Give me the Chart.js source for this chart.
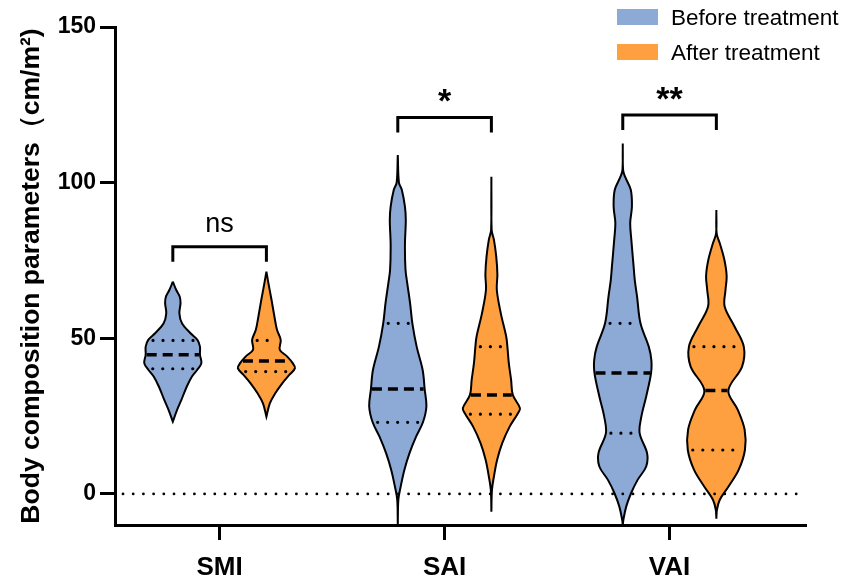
<!DOCTYPE html>
<html>
<head>
<meta charset="utf-8">
<script src="https://cdn.jsdelivr.net/npm/chart.js@4.4.1/dist/chart.umd.min.js"></script>
<style>
  html, body { margin: 0; padding: 0; background: #fff; }
  canvas { display: block; }
</style>
</head>
<body>
<canvas id="chart" width="843" height="580"></canvas>
<script>
// --- Values ---
const categories = ['SMI', 'SAI', 'VAI'];
const seriesNames = ['Before treatment', 'After treatment'];
const seriesColors = ['#8daad6', '#ffa040'];
const yTicks = [0, 50, 100, 150];

const beforeQ3 = [49.3, 54.8, 54.8];
const beforeMedian = [44.7, 33.7, 38.8];
const beforeQ1 = [40.2, 23.0, 19.5];
const afterQ3 = [49.3, 47.3, 47.3];
const afterMedian = [42.7, 31.8, 33.2];
const afterQ1 = [39.3, 25.6, 14.1];

const sigLabels = ['ns', '*', '**'];
const sigLevels = [79.4, 120.9, 121.7];

// violin outlines: levels from top to bottom, width in % of the widest part
const smiBeforeLevels = [68.2, 65.5, 63.4, 61.3, 58.0, 54.8, 51.6, 49.5, 47.3, 44.7, 42.0, 39.8, 37.7, 34.5, 30.2, 27.0, 23.2];
const smiBeforeWidth  = [0, 12, 24, 27, 23, 32, 62, 86, 95, 95, 100, 85, 67, 49, 30, 15, 0];
const smiAfterLevels  = [71.4, 67.7, 62.3, 57.0, 52.7, 49.5, 46.3, 44.1, 42.0, 40.4, 38.2, 35.6, 32.3, 29.1, 24.8];
const smiAfterWidth   = [0, 7, 18, 28, 37, 50, 47, 73, 92, 100, 80, 56, 31, 12, 0];

const saiBeforeLevels = [108.9, 100.0, 97.7, 92.3, 88.0, 80.0, 72.0, 67.7, 61.3, 54.8, 47.3, 39.8, 33.7, 28.0, 23.0, 18.4, 13.1, 7.7, 2.3, -1.9, -10.0];
const saiBeforeWidth  = [0, 4, 14, 25, 28, 25, 27, 33, 43, 51, 66, 87, 94, 100, 88, 64, 41, 23, 10, 2, 0];
const saiAfterLevels  = [101.9, 84.8, 81.6, 76.2, 70.5, 65.5, 58.0, 50.5, 47.3, 42.0, 36.6, 31.8, 27.5, 25.6, 21.6, 16.3, 10.9, 5.6, 1.3, -5.7];
const saiAfterWidth   = [0, 1, 9, 17, 21, 19, 33, 52, 56, 61, 69, 75, 100, 91, 64, 38, 20, 9, 2, 0];

const vaiBeforeLevels = [112.6, 104.1, 101.9, 97.7, 92.3, 87.0, 81.6, 73.0, 68.7, 63.4, 54.8, 47.3, 43.0, 38.8, 31.3, 24.8, 19.5, 13.1, 8.8, 4.5, 0.2, -4.1, -8.4, -10.0];
const vaiBeforeWidth  = [0, 1, 8, 28, 32, 26, 30, 38, 42, 50, 62, 91, 100, 99, 82, 65, 59, 85, 82, 52, 29, 12, 2, 0];
const vaiAfterLevels  = [91.2, 83.7, 80.5, 75.2, 70.0, 65.5, 60.2, 53.7, 47.3, 40.9, 33.2, 27.0, 20.6, 14.1, 7.7, 2.3, -1.9, -5.1, -8.0];
const vaiAfterWidth   = [0, 1, 12, 28, 36, 32, 29, 64, 96, 90, 42, 75, 99, 100, 78, 42, 12, 2, 0];

// --- Layout constants ---
const groupOffset = 0.208;   // each violin sits this far from its category centre (x units)
const maxHalfWidth = 0.127;  // half width of the widest part of a violin (x units)
const zeroLine = 0;

const violins = [
    { cat: 0, s: 0, levels: smiBeforeLevels, width: smiBeforeWidth, q1: beforeQ1[0], med: beforeMedian[0], q3: beforeQ3[0] },
    { cat: 0, s: 1, levels: smiAfterLevels,  width: smiAfterWidth,  q1: afterQ1[0],  med: afterMedian[0],  q3: afterQ3[0] },
    { cat: 1, s: 0, levels: saiBeforeLevels, width: saiBeforeWidth, q1: beforeQ1[1], med: beforeMedian[1], q3: beforeQ3[1] },
    { cat: 1, s: 1, levels: saiAfterLevels,  width: saiAfterWidth,  q1: afterQ1[1],  med: afterMedian[1],  q3: afterQ3[1] },
    { cat: 2, s: 0, levels: vaiBeforeLevels, width: vaiBeforeWidth, q1: beforeQ1[2], med: beforeMedian[2], q3: beforeQ3[2] },
    { cat: 2, s: 1, levels: vaiAfterLevels,  width: vaiAfterWidth,  q1: afterQ1[2],  med: afterMedian[2],  q3: afterQ3[2] }
];

function centerOf(v) {
    return v.cat + 1 + (v.s === 0 ? -groupOffset : groupOffset);
}

// closed outline: right side top->bottom, then left side bottom->top
function outline(v) {
    const c = centerOf(v);
    const right = v.levels.map((y, i) => ({ x: c + v.width[i] / 100 * maxHalfWidth, y: y }));
    const left = v.levels.map((y, i) => ({ x: c - v.width[i] / 100 * maxHalfWidth, y: y })).reverse();
    return right.concat(left);
}

function widthAt(v, value) {
    const L = v.levels, W = v.width;
    for (let i = 0; i < L.length - 1; i++) {
        if (value <= L[i] && value >= L[i + 1]) {
            const t = (L[i] - value) / (L[i] - L[i + 1]);
            return (W[i] + t * (W[i + 1] - W[i])) / 100 * maxHalfWidth;
        }
    }
    return 0;
}

const datasets = violins.map(v => ({
    label: seriesNames[v.s],
    data: outline(v),
    showLine: true,
    borderColor: '#000',
    borderWidth: 2,
    pointRadius: 0,
    tension: 0.35,
    fill: false,
    violinColor: seriesColors[v.s]
}));

// fills each violin before Chart.js strokes its outline
const violinFill = {
    id: 'violinFill',
    beforeDatasetDraw(chart, args) {
        const ds = chart.data.datasets[args.index];
        const line = args.meta.dataset;
        if (!line || !ds.violinColor) return;
        const area = chart.chartArea;
        const ctx = chart.ctx;
        line.updateControlPoints(area, 'x');
        ctx.save();
        ctx.beginPath();
        ctx.rect(area.left, area.top, area.right - area.left, area.bottom - area.top);
        ctx.clip();
        ctx.beginPath();
        line.path(ctx);
        ctx.closePath();
        ctx.fillStyle = ds.violinColor;
        ctx.fill();
        ctx.restore();
    }
};

function hLine(ctx, x1, x2, y) {
    ctx.beginPath();
    ctx.moveTo(x1, y);
    ctx.lineTo(x2, y);
    ctx.stroke();
}

const decorations = {
    id: 'decorations',
    afterDatasetsDraw(chart) {
        const ctx = chart.ctx;
        const xs = chart.scales.x, ys = chart.scales.y;
        const area = chart.chartArea;
        ctx.save();
        ctx.strokeStyle = '#000';

        // quartiles (dotted) and median (dashed)
        violins.forEach(v => {
            const c = centerOf(v);
            const cx = xs.getPixelForValue(c);
            [v.q1, v.q3].forEach(q => {
                const hw = xs.getPixelForValue(c + widthAt(v, q)) - cx;
                ctx.setLineDash([0, 10]);
                ctx.lineCap = 'round';
                ctx.lineWidth = 3.2;
                hLine(ctx, cx - hw + 5, cx + hw - 4, ys.getPixelForValue(q));
            });
            const hm = xs.getPixelForValue(c + widthAt(v, v.med)) - cx;
            ctx.setLineDash([10, 6]);
            ctx.lineCap = 'butt';
            ctx.lineWidth = 3.5;
            hLine(ctx, cx - hm + 1, cx + hm - 1, ys.getPixelForValue(v.med));
        });

        // dotted reference line at zero
        ctx.setLineDash([0, 10.2]);
        ctx.lineCap = 'round';
        ctx.lineWidth = 2.8;
        hLine(ctx, area.left + 8, area.right, ys.getPixelForValue(zeroLine));

        // significance brackets
        ctx.setLineDash([]);
        ctx.lineCap = 'butt';
        ctx.lineJoin = 'miter';
        ctx.lineWidth = 3;
        ctx.fillStyle = '#000';
        categories.forEach((name, i) => {
            const xl = xs.getPixelForValue(i + 1 - groupOffset);
            const xr = xs.getPixelForValue(i + 1 + groupOffset);
            const yb = ys.getPixelForValue(sigLevels[i]);
            ctx.beginPath();
            ctx.moveTo(xl, yb + 15);
            ctx.lineTo(xl, yb);
            ctx.lineTo(xr, yb);
            ctx.lineTo(xr, yb + 15);
            ctx.stroke();

            const txt = sigLabels[i];
            ctx.font = txt === 'ns' ? '27px "Liberation Sans", Arial, sans-serif'
                                    : 'bold 34px "Liberation Sans", Arial, sans-serif';
            ctx.textAlign = 'center';
            ctx.textBaseline = 'alphabetic';
            const m = ctx.measureText(txt);
            const cy = yb - 22;
            ctx.fillText(txt, (xl + xr) / 2, cy + (m.actualBoundingBoxAscent - m.actualBoundingBoxDescent) / 2);
        });
        ctx.restore();
    },
    afterDraw(chart) {
        // legend, top right
        const ctx = chart.ctx;
        ctx.save();
        ctx.font = '22.5px "Liberation Sans", Arial, sans-serif';
        ctx.textBaseline = 'middle';
        ctx.textAlign = 'left';
        seriesNames.forEach((name, i) => {
            const top = 9 + i * 35;
            ctx.fillStyle = seriesColors[i];
            ctx.fillRect(617, top, 41, 16);
            ctx.fillStyle = '#000';
            ctx.fillText(name, 671, top + 10);
        });
        ctx.restore();
    }
};

const tickFont = { family: '"Liberation Sans", Arial, sans-serif', weight: 'bold' };

new Chart(document.getElementById('chart'), {
    type: 'scatter',
    data: { datasets: datasets },
    options: {
        responsive: false,
        animation: false,
        events: [],
        layout: { padding: { left: 0, right: 38, top: 27, bottom: 0 } },
        plugins: {
            legend: { display: false },
            tooltip: { enabled: false }
        },
        scales: {
            x: {
                type: 'linear',
                min: 0.535,
                max: 3.602,
                afterBuildTicks: s => { s.ticks = categories.map((c, i) => ({ value: i + 1 })); },
                afterFit: s => { s.height = 55; },
                ticks: {
                    autoSkip: false,
                    maxRotation: 0,
                    padding: 12,
                    color: '#000',
                    font: Object.assign({ size: 26 }, tickFont),
                    callback: v => categories[v - 1]
                },
                grid: { drawOnChartArea: false, drawTicks: true, tickLength: 15, lineWidth: 3, color: '#000' },
                border: { display: true, width: 3, color: '#000' }
            },
            y: {
                type: 'linear',
                min: -10,
                max: 150,
                afterBuildTicks: s => { s.ticks = yTicks.map(v => ({ value: v })); },
                afterFit: s => { s.width = 115; },
                ticks: {
                    padding: 4,
                    color: '#000',
                    font: Object.assign({ size: 23 }, tickFont)
                },
                grid: { drawOnChartArea: false, drawTicks: true, tickLength: 15, lineWidth: 3, color: '#000' },
                border: { display: true, width: 3, color: '#000' },
                title: {
                    display: true,
                    text: 'Body composition parameters（cm/m²)',
                    color: '#000',
                    padding: { top: 16, bottom: 0 },
                    font: { family: '"Liberation Sans", Arial, sans-serif', weight: 'bold', size: 26.5 }
                }
            }
        }
    },
    plugins: [violinFill, decorations]
});
</script>
</body>
</html>
